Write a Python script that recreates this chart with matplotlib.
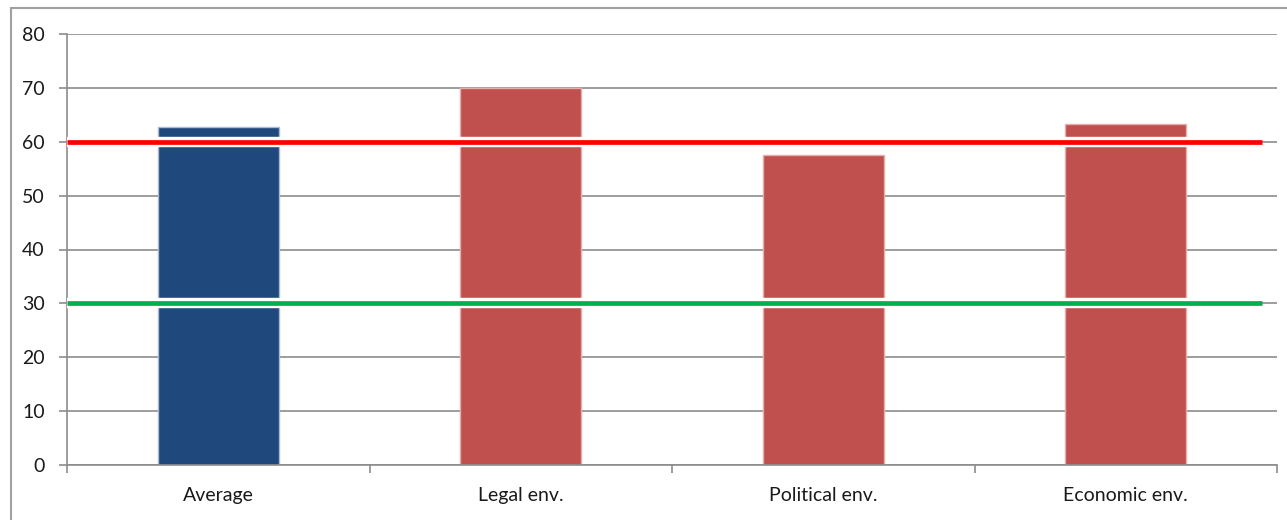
import matplotlib
matplotlib.use("Agg")
import matplotlib.pyplot as plt
import matplotlib.patheffects as pe
from matplotlib.patches import Rectangle

categories = ["Average", "Legal env.", "Political env.", "Economic env."]
values = [62.7, 70.0, 57.5, 63.3]
bar_colors = ["#1F497D", "#C0504D", "#C0504D", "#C0504D"]
edge_colors = ["#A9B9D0", "#E3AFAD", "#E3AFAD", "#E3AFAD"]
upper_threshold = 60
lower_threshold = 30
yticks = [0, 10, 20, 30, 40, 50, 60, 70, 80]

plt.rcParams['font.family'] = ['Lato', 'DejaVu Sans']

fig = plt.figure(figsize=(12.87, 5.2), dpi=100)
ax = fig.add_axes([67/1287, 1-465/520, (1277-67)/1287, (465-34)/520])

x = list(range(len(categories)))
ax.bar(x, values, width=0.40, color=bar_colors, edgecolor=edge_colors, linewidth=1, zorder=2)

halo = [pe.Stroke(linewidth=7.5, foreground='white'), pe.Normal()]
ax.plot([-0.5, 3.45], [upper_threshold]*2, color="#FF0000", lw=3.4, zorder=3,
        solid_capstyle='butt', path_effects=halo)
ax.plot([-0.5, 3.45], [lower_threshold]*2, color="#00B050", lw=3.4, zorder=3,
        solid_capstyle='butt', path_effects=halo)

ax.set_xlim(-0.5, 3.5)
ax.set_ylim(0, 80)
ax.set_yticks(yticks)
ax.yaxis.grid(True, color="#8C8C8C", lw=1.2, zorder=1)
ax.set_axisbelow(True)
ax.set_xticks(x)
ax.set_xticklabels(categories, fontsize=14, color="#1A1A1A")
ax.tick_params(axis='x', which='major', length=0, pad=16)
ax.set_xticks([-0.5, 0.5, 1.5, 2.5, 3.5], minor=True)
ax.tick_params(axis='x', which='minor', length=6, width=1.2, color="#8C8C8C", direction='out')
ax.tick_params(axis='y', length=6, width=1.2, color="#8C8C8C", labelsize=14,
               labelcolor="#1A1A1A", pad=10)

for s in ['top', 'right']:
    ax.spines[s].set_visible(False)
ax.spines['left'].set_color("#8C8C8C")
ax.spines['left'].set_linewidth(1.2)
ax.spines['bottom'].set_color("#8C8C8C")
ax.spines['bottom'].set_linewidth(1.2)

fig.patches.append(Rectangle((11/1287, -0.1), 1.2, 1.1 - 8/520, transform=fig.transFigure,
                             fill=False, edgecolor="#A0A0A0", lw=1.5))

fig.savefig("out.png", dpi=100)
